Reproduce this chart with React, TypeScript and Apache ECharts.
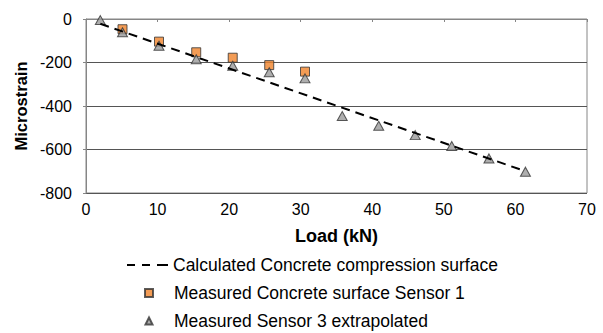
import React, { useEffect, useRef } from "react";
import * as echarts from "echarts";

const xTicks = { min: 0, max: 70, interval: 10 };
const yTicks = { min: -800, max: 0, interval: 200 };

const calculatedLine: [number, number][] = [
  [2, -22],
  [61.4, -700],
];

const sensor1Load = [5.1, 10.2, 15.4, 20.5, 25.6, 30.6];
const sensor1Strain = [-47, -104, -153, -178, -212, -242];

const sensor3Load = [2, 5.1, 10.2, 15.4, 20.5, 25.6, 30.6, 35.8, 40.9, 46.0, 51.1, 56.3, 61.4];
const sensor3Strain = [-5, -61, -123, -185, -215, -245, -273, -446, -491, -534, -584, -641, -702];

const names = [
  "Calculated Concrete compression surface",
  "Measured Concrete surface Sensor 1",
  "Measured Sensor 3 extrapolated",
];

export default function App() {
  const ref = useRef<HTMLDivElement>(null);
  useEffect(() => {
    if (!ref.current) return;
    const chart = echarts.init(ref.current, undefined, { renderer: "svg" });
    const font = "'Liberation Sans', Arial, sans-serif";
    const legendText = { fontSize: 17.5, color: "#000", lineHeight: 18, fontFamily: font };
    chart.setOption({
      animation: false,
      textStyle: { fontFamily: font },
      grid: {
        left: 86,
        top: 19,
        right: 16,
        bottom: 140,
        show: true,
        borderColor: "#868686",
        borderWidth: 1,
        backgroundColor: "transparent",
      },
      xAxis: {
        type: "value",
        min: xTicks.min,
        max: xTicks.max,
        interval: xTicks.interval,
        name: "Load (kN)",
        nameLocation: "middle",
        nameGap: 34,
        nameTextStyle: { fontSize: 18, fontWeight: "bold", color: "#000", fontFamily: font },
        axisLine: { show: true, lineStyle: { color: "#868686", width: 1 } },
        axisTick: { show: true, length: 3, lineStyle: { color: "#868686" } },
        axisLabel: { fontSize: 16, color: "#000", margin: 8, fontFamily: font },
        splitLine: { show: false },
      },
      yAxis: {
        type: "value",
        min: yTicks.min,
        max: yTicks.max,
        interval: yTicks.interval,
        name: "Microstrain",
        nameLocation: "middle",
        nameGap: 52,
        nameTextStyle: { fontSize: 16.5, fontWeight: "bold", color: "#000", fontFamily: font },
        axisLine: { show: true, onZero: false, lineStyle: { color: "#868686", width: 1 } },
        axisTick: { show: true, length: 3, lineStyle: { color: "#868686" } },
        axisLabel: { fontSize: 16, color: "#000", margin: 14, fontFamily: font },
        splitLine: { show: true, lineStyle: { color: "#555", width: 1 } },
      },
      legend: [
        {
          left: 127,
          top: 256,
          padding: 0,
          itemWidth: 41,
          itemHeight: 2,
          icon: "path://M0 0h8v2H0z M15 0h8v2h-8z M30 0h11v2h-11z",
          data: [names[0]],
          textStyle: legendText,
        },
        {
          left: 144,
          top: 284,
          padding: 0,
          itemWidth: 8,
          itemHeight: 8,
          icon: "rect",
          data: [names[1]],
          textStyle: { ...legendText, padding: [0, 0, 0, 16] },
        },
        {
          left: 144.5,
          top: 312,
          padding: 0,
          itemWidth: 7,
          itemHeight: 7,
          icon: "triangle",
          data: [names[2]],
          textStyle: { ...legendText, padding: [0, 0, 0, 16.5] },
        },
      ],
      series: [
        {
          name: names[1],
          type: "scatter",
          symbol: "rect",
          symbolSize: 9,
          itemStyle: { color: "#F0832A", borderColor: "#333", borderWidth: 1 },
          data: sensor1Load.map((x, i) => [x, sensor1Strain[i]]),
          z: 2,
        },
        {
          name: names[2],
          type: "scatter",
          symbol: "triangle",
          symbolSize: [10, 9],
          itemStyle: { color: "#9A9A9A", borderColor: "#333", borderWidth: 1 },
          data: sensor3Load.map((x, i) => [x, sensor3Strain[i]]),
          z: 3,
        },
        {
          name: names[0],
          type: "line",
          symbol: "none",
          lineStyle: { color: "#000", width: 2, type: [9, 6] },
          itemStyle: { color: "#000" },
          data: calculatedLine,
          z: 4,
        },
      ],
    });
    return () => chart.dispose();
  }, []);
  return (
    <div
      ref={ref}
      style={{ position: "absolute", left: 0, top: 0, width: 603, height: 333, background: "#fff" }}
    />
  );
}
